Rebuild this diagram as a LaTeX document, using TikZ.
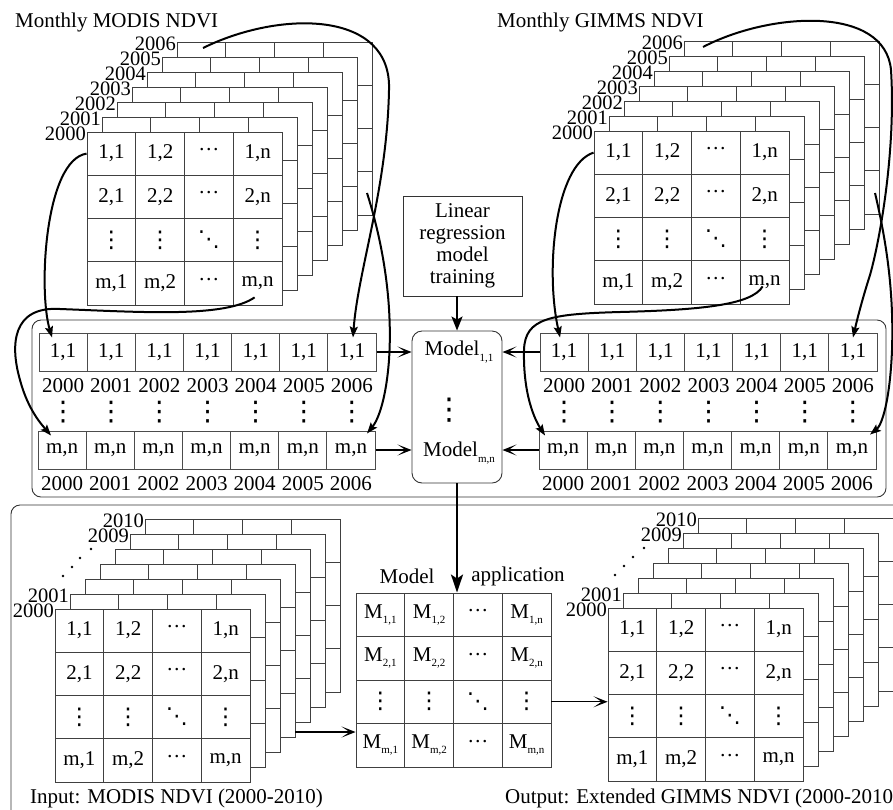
\documentclass[tikz,border=0pt]{standalone}
\usepackage{fontspec}
\setmainfont{Liberation Serif}
\newfontfamily\dejavu{DejaVu Sans}
\usetikzlibrary{arrows.meta,positioning,calc}

\newcommand{\lowsub}[1]{\raisebox{-0.55ex}{\fontsize{11}{11}\selectfont #1}}
\newcommand{\vdotz}[1]{{\dejavu\fontsize{#1}{#1}\selectfont ⋮}}
\newcommand{\ddotz}{{\dejavu\fontsize{22}{22}\selectfont ⋱}}
\newcommand{\cdotz}{\raisebox{2pt}{···}}
\newcommand{\rowlab}[1]{\ifcase#1\or 1\or 2\or\or m\fi}
\newcommand{\collab}[1]{\ifcase#1\or 1\or 2\or\or n\fi}
\newcommand{\cellentry}[2]{%
  \ifnum#1=3\relax\ifnum#2=3\relax\ddotz\else\vdotz{23}\fi
  \else\ifnum#2=3\relax\cdotz\else\rowlab{#1},\collab{#2}\fi\fi}
\newcommand{\appentry}[2]{%
  \ifnum#1=3\relax\ifnum#2=3\relax\ddotz\else\vdotz{23}\fi
  \else\ifnum#2=3\relax\cdotz\else M\lowsub{\rowlab{#1},\collab{#2}}\fi\fi}

\tikzset{
  gridline/.style={draw=black!75, line width=0.9pt},
  cell/.style={draw=black!75, line width=0.9pt, fill=white, minimum width=48.75pt,
    minimum height=43.25pt, inner sep=0pt, font=\fontsize{21}{22}\selectfont},
  scell/.style={draw=black!70, line width=0.9pt, minimum width=48.15pt,
    minimum height=38pt, inner sep=0pt, font=\fontsize{21}{22}\selectfont},
  year/.style={inner sep=0.5pt, font=\fontsize{21}{22}\selectfont},
  layeryear/.style={inner sep=0pt, anchor=east, font=\fontsize{20.5}{22}\selectfont},
  title/.style={inner sep=0pt, anchor=west, font=\fontsize{21}{22}\selectfont},
  panel/.style={draw=black!80, line width=0.9pt, rounded corners=9pt},
  curve/.style={line width=2pt, -{Stealth[length=11pt,width=8pt,inset=2pt]}},
  feed/.style={line width=1.3pt, -{Stealth[length=14pt,width=11pt,inset=8pt]}},
  downarrow/.style={line width=2pt, -{Stealth[length=14pt,width=11pt,inset=3pt]}},
  bigarrow/.style={line width=2.5pt, -{Stealth[length=18pt,width=12pt,inset=4pt]}},
}

% back layers of a stack, front top-left at (#1,#2)
\newcommand{\backlayers}[2]{%
  \foreach \k in {6,5,...,1} {
    \filldraw[gridline,fill=white] ({#1+15*\k},{#2-15*\k}) rectangle ++(195,173);
    \foreach \c in {1,2,3} \draw[gridline] ({#1+15*\k+\c*48.75},{#2-15*\k}) -- ++(0,173);
    \foreach \c in {1,2,3} \draw[gridline] ({#1+15*\k},{#2-15*\k+\c*43.25}) -- ++(195,0);
  }}
% front matrix: name, x, y, cell height, entry macro
\newcommand{\frontgrid}[5]{%
  \foreach \i in {1,...,4} \foreach \j in {1,...,4}
    \node[cell, minimum height=#4pt] (#1-\i-\j) at ({#2+(\j-0.5)*48.75},{#3+(\i-0.5)*#4}) {#5{\i}{\j}};}
% time series strip: name, x, y center, text
\newcommand{\yearstrip}[4]{%
  \foreach \k in {1,...,7} {
    \pgfmathtruncatemacro\yr{1999+\k}
    \node[scell] (#1-\k) at ({#2+(\k-0.5)*48.15},#3) {#4};
    \node[year] (#1-y\k) at ({#2+(\k-0.5)*48.15},{#3+34}) {\yr};
  }}

\begin{document}
\begin{tikzpicture}[x=1pt, y=-1pt]
\useasboundingbox (0,0) rectangle (893,809);

% panels
\draw[panel] (32,320) rectangle (886,497);
\draw[panel] (11,505) rectangle (910,830);

% Monthly MODIS NDVI
\node[title] (mo-title) at (15,22) {Monthly MODIS NDVI};
\backlayers{87}{132}
\frontgrid{mo}{87}{132}{43.25}{\cellentry}
\foreach \k in {0,...,6} {
  \pgfmathtruncatemacro\yr{2000+\k}
  \node[layeryear] (mo-y\k) at ({86+15*\k},{134-15*\k}) {\yr};
}
\coordinate (mo-top) at (203,48);
\coordinate (mo-low) at (367,193);

% Monthly GIMMS NDVI
\node[title] (gi-title) at (497,22) {Monthly GIMMS NDVI};
\backlayers{594}{131}
\frontgrid{gi}{594}{131}{43.25}{\cellentry}
\foreach \k in {0,...,6} {
  \pgfmathtruncatemacro\yr{2000+\k}
  \node[layeryear] (gi-y\k) at ({593+15*\k},{133-15*\k}) {\yr};
}
\coordinate (gi-top) at (703,47);
\coordinate (gi-low) at (875,193);

% Training
\node[draw=black!80, line width=0.9pt, minimum width=119pt, minimum height=100pt,
  align=center, inner sep=2pt, font=\fontsize{21}{22}\selectfont] (train) at (462.5,246)
  {Linear\\regression\\model\\training};

% time series per pixel
\yearstrip{moA}{39}{352}{1,1}
\yearstrip{moB}{38}{450}{m,n}
\yearstrip{giA}{540}{352}{1,1}
\yearstrip{giB}{539}{450}{m,n}
\foreach \k in {1,...,7} {
  \node[year, inner sep=0pt] (moD-\k) at ({39+(\k-0.5)*48.15},412) {\vdotz{27}};
  \node[year, inner sep=0pt] (giD-\k) at ({540+(\k-0.5)*48.15},412) {\vdotz{27}};
}

% Models
\node[draw=black!80, line width=0.9pt, rounded corners=10pt, minimum width=90pt,
  minimum height=152pt] (model) at (457,407) {};
\node[font=\fontsize{21}{22}\selectfont, inner sep=0pt] (model-1) at (459,352) {Model\lowsub{1,1}};
\node[font=\fontsize{21}{22}\selectfont, inner sep=0pt] (model-m) at (459,453) {Model\lowsub{m,n}};
\node[year, inner sep=0pt] (model-d) at (449,410) {\vdotz{30}};

% Model application
\frontgrid{app}{356}{593}{43.5}{\appentry}
\node[year] (app-l1) at (407,576) {Model};
\node[year] (app-l2) at (518,576) {application};

% Input MODIS NDVI 2000-2010
\backlayers{55}{609}
\frontgrid{inp}{55}{609}{43.25}{\cellentry}
\node[layeryear] (inp-y0) at (54,611) {2000};
\node[layeryear] (inp-y1) at (69,596) {2001};
\node[layeryear] (inp-y9) at (129,536) {2009};
\node[layeryear] (inp-y10) at (144,521) {2010};
\foreach \dx/\dy in {8/33,17/42,25/51,36/60} \fill ({55+\dx},{609-\dy}) circle (1.3pt);
\coordinate (inp-out) at (295,732);
\node[title] (inp-title) at (30,798) {Input: MODIS NDVI (2000-2010)};

% Output Extended GIMMS NDVI 2000-2010
\backlayers{608}{608}
\frontgrid{out}{608}{608}{43.25}{\cellentry}
\node[layeryear] (out-y0) at (607,610) {2000};
\node[layeryear] (out-y1) at (622,595) {2001};
\node[layeryear] (out-y9) at (682,535) {2009};
\node[layeryear] (out-y10) at (697,520) {2010};
\foreach \dx/\dy in {7/33,16/42,25/51,36/60} \fill ({608+\dx},{608-\dy}) circle (1.3pt);
\node[title] (out-title) at (505,798) {Output: Extended GIMMS NDVI (2000-2010};

% Connections
\draw[feed] (moA-7.east) -- (moA-7.east -| model.west);
\draw[feed] (moB-7.east) -- (moB-7.east -| model.west);
\draw[feed] (giA-1.west) -- (giA-1.west -| model.east);
\draw[feed] (giB-1.west) -- (giB-1.west -| model.east);
\draw[downarrow] (train.south -| model.north) -- (model.north);
\draw[bigarrow] (model.south) -- (model.south |- app-1-2.north);
\draw[feed] (inp-out) -- (inp-out -| app-4-1.west);
\draw[feed] (app-3-4.east) -- (app-3-4.east -| out-3-1.west);

% pixels to series
\draw[curve] (mo-1-1.west) .. controls (45,160) and (38,290) .. ([xshift=-11pt,yshift=-5pt]moA-1.north);
\draw[curve] ([xshift=-3pt,yshift=-14pt]mo-4-4.center) .. controls (225,318) and (140,312) .. (60,309)
  .. controls (12,306) and (10,345) .. (20,380) .. controls (28,410) and (42,425) .. ([xshift=-11pt,yshift=-5pt]moB-1.north);
\draw[curve] (mo-top) .. controls (280,10) and (392,10) .. (389,90)
  .. controls (387,190) and (358,270) .. ([xshift=1pt,yshift=-5pt]moA-7.north);
\draw[curve] (mo-low) .. controls (382,240) and (393,300) .. (389,360)
  .. controls (386,400) and (378,420) .. ([xshift=16pt,yshift=-3pt]moB-7.north);
\draw[curve] (gi-1-1.west) .. controls (555,165) and (545,270) .. ([xshift=-4pt,yshift=-5pt]giA-1.north);
\draw[curve] ([xshift=-2pt,yshift=-4pt]gi-4-4.center) .. controls (752,305) and (700,310) .. (620,312)
  .. controls (550,314) and (525,318) .. (524,350) .. controls (523,395) and (535,420) .. ([xshift=-18pt,yshift=-5pt]giB-1.north);
\draw[curve] (gi-top) .. controls (770,12) and (885,5) .. (891,70)
  .. controls (896,150) and (880,240) .. (870,275) .. controls (862,300) and (857,320) .. ([yshift=-5pt]giA-7.north);
\draw[curve] (gi-low) .. controls (886,240) and (894,290) .. (892,350)
  .. controls (890,400) and (882,425) .. ([xshift=18pt,yshift=-4pt]giB-7.north);
\end{tikzpicture}
\end{document}
